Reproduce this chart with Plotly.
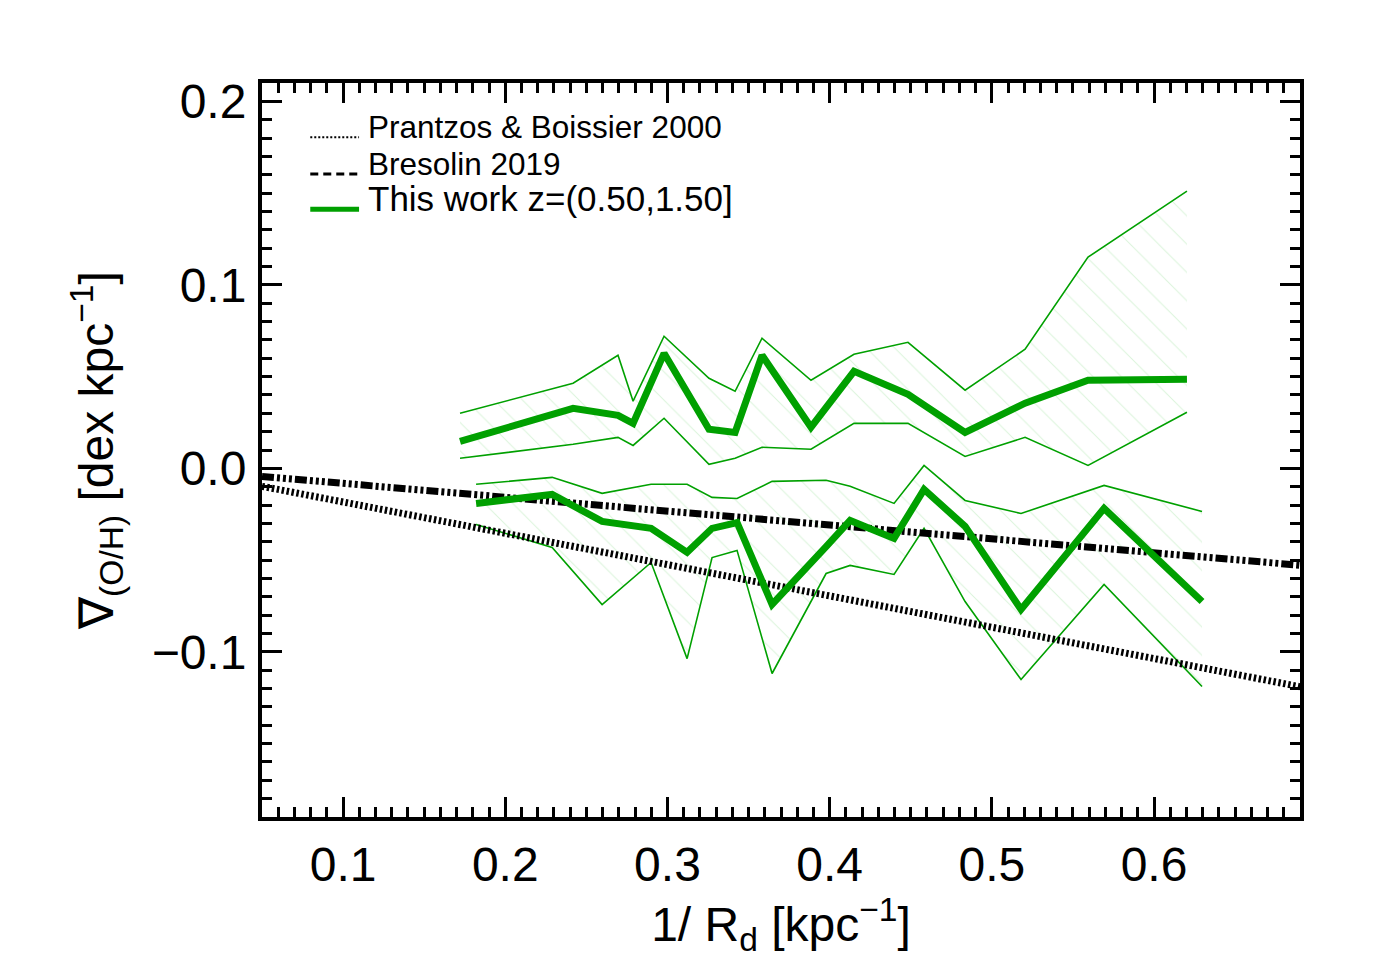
import plotly.graph_objects as go

# ---------------- data ----------------
# upper group (positive gradients)
up_x = [0.1721, 0.2418, 0.2695, 0.2788, 0.2979, 0.3256, 0.3417, 0.3583,
        0.3885, 0.4150, 0.4483, 0.4835, 0.5205, 0.5593, 0.6203]
up_med = [0.0147, 0.0327, 0.0289, 0.0245, 0.0627, 0.0213, 0.0196, 0.0616,
          0.0224, 0.0529, 0.0404, 0.0196, 0.0355, 0.0480, 0.0485]
up_hi = [0.0300, 0.0464, 0.0616, 0.0366, 0.0720, 0.0491, 0.0420, 0.0709,
         0.0480, 0.0622, 0.0687, 0.0426, 0.0649, 0.1151, 0.1511]
up_lo = [0.0055, 0.0131, 0.0169, 0.0125, 0.0273, 0.0022, 0.0055, 0.0115,
         0.0104, 0.0245, 0.0245, 0.0065, 0.0169, 0.0016, 0.0306]

# lower group (negative gradients)
lo_x = [0.1820, 0.2289, 0.2597, 0.2899, 0.3121, 0.3275, 0.3429, 0.3645,
        0.3978, 0.4126, 0.4397, 0.4582, 0.4835, 0.5180, 0.5692, 0.6296]
lo_med = [-0.0191, -0.0142, -0.0289, -0.0327, -0.0458, -0.0327, -0.0295, -0.0742,
          -0.0426, -0.0284, -0.0382, -0.0115, -0.0316, -0.0769, -0.0218, -0.0726]
lo_hi = [-0.0087, -0.0049, -0.0136, -0.0087, -0.0087, -0.0158, -0.0164, -0.0071,
         -0.0065, -0.0098, -0.0191, 0.0016, -0.0175, -0.0246, -0.0093, -0.0235]
lo_lo = [-0.0306, -0.0431, -0.0742, -0.0513, -0.1037, -0.0486, -0.0447, -0.1118,
         -0.0573, -0.0529, -0.0578, -0.0327, -0.0726, -0.1151, -0.0633, -0.1189]

# reference relations
pb_x = [0.05, 0.69]
pb_y = [-0.0098, -0.1190]
br_x = [0.05, 0.69]
br_y = [-0.0044, -0.0528]

legend_labels = ["Prantzos & Boissier 2000", "Bresolin 2019", "This work z=(0.50,1.50]"]

x_ticks = [0.1, 0.2, 0.3, 0.4, 0.5, 0.6]
y_ticks = [-0.1, 0.0, 0.1, 0.2]

GREEN = "#00a000"
HATCH = "rgba(0,170,0,0.28)"
FONT = "Liberation Sans, Arial, Helvetica, sans-serif"

fig = go.Figure()


def band(x, lo, hi):
    fig.add_trace(go.Scatter(x=x, y=lo, mode="lines", line=dict(color=GREEN, width=1.6),
                             showlegend=False, hoverinfo="skip"))
    fig.add_trace(go.Scatter(x=x, y=hi, mode="lines", line=dict(color=GREEN, width=1.6),
                             fill="tonexty", fillcolor="rgba(0,0,0,0)",
                             fillpattern=dict(shape="\\", fgcolor=HATCH, bgcolor="rgba(0,0,0,0)",
                                              size=20, solidity=0.05),
                             showlegend=False, hoverinfo="skip"))


band(up_x, up_lo, up_hi)
band(lo_x, lo_lo, lo_hi)

fig.add_trace(go.Scatter(x=pb_x, y=pb_y, mode="lines",
                         line=dict(color="black", width=7, dash="2.5px,2.5px"),
                         showlegend=False))
fig.add_trace(go.Scatter(x=br_x, y=br_y, mode="lines",
                         line=dict(color="black", width=7,
                                   dash="12px,3px,3px,3px,3px,3px,3px,3px"),
                         showlegend=False))

fig.add_trace(go.Scatter(x=up_x, y=up_med, mode="lines", line=dict(color=GREEN, width=7),
                         showlegend=False))
fig.add_trace(go.Scatter(x=lo_x, y=lo_med, mode="lines", line=dict(color=GREEN, width=7),
                         showlegend=False))

# ---------------- legend (drawn IDL-style) ----------------
leg_rows = [
    dict(y_text=0.940, y_line=0.926, size=31.5, line=dict(color="black", width=2, dash="2px,2px")),
    dict(y_text=0.890, y_line=0.876, size=31.5, line=dict(color="black", width=3, dash="8px,5px")),
    dict(y_text=0.842, y_line=0.828, size=35, line=dict(color=GREEN, width=5)),
]
for lab, row in zip(legend_labels, leg_rows):
    fig.add_annotation(x=0.100, y=row["y_text"], xref="paper", yref="paper", text=lab,
                       showarrow=False, xanchor="left", yanchor="middle",
                       font=dict(family=FONT, size=row["size"], color="black"))
    fig.add_shape(type="line", xref="paper", yref="paper", x0=0.0465, x1=0.0935,
                  y0=row["y_line"], y1=row["y_line"], line=row["line"])

axis_common = dict(
    showline=True, linecolor="black", linewidth=4, mirror="ticks",
    ticks="inside", ticklen=20, tickwidth=3, tickcolor="black",
    showgrid=False, zeroline=False,
    tickfont=dict(family=FONT, size=48, color="black"),
    tickformat=".1f",
)

fig.update_xaxes(
    range=[0.05, 0.69], tickvals=x_ticks, ticklabelstandoff=2,
    minor=dict(dtick=0.01, ticks="inside", ticklen=10, tickwidth=3, tickcolor="black", showgrid=False),
    title=dict(text="1/ R<sub>d</sub> [kpc<sup>−1</sup>]", font=dict(family=FONT, size=48, color="black"),
               standoff=0),
    **axis_common,
)
fig.update_yaxes(
    range=[-0.19, 0.21], tickvals=y_ticks, ticklabelstandoff=2,
    minor=dict(dtick=0.01, ticks="inside", ticklen=10, tickwidth=3, tickcolor="black", showgrid=False),
    title=dict(text="∇<sub>(O/H)</sub> [dex kpc<sup>−1</sup>]", font=dict(family=FONT, size=48, color="black"),
               standoff=24),
    **axis_common,
)

fig.update_layout(
    width=1370, height=962,
    margin=dict(l=254, r=78, t=75, b=153),
    plot_bgcolor="white", paper_bgcolor="white",
    showlegend=False,
)

fig.write_html("out.html")
